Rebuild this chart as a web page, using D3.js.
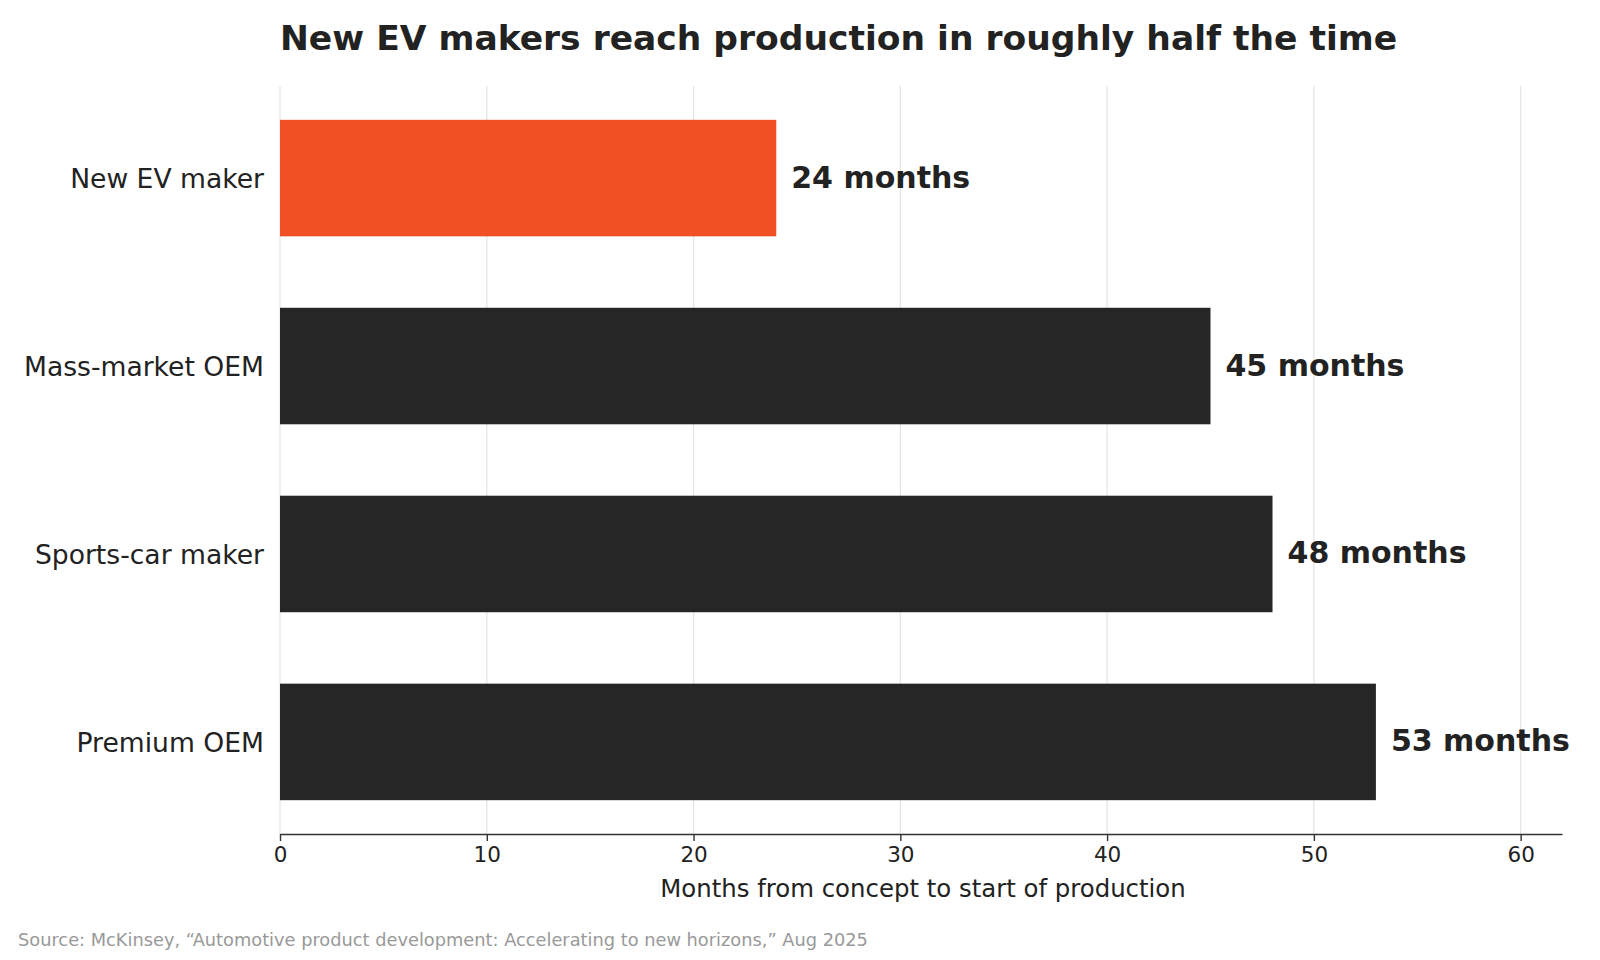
<!DOCTYPE html>
<html><head><meta charset="utf-8">
<script src="https://cdn.jsdelivr.net/npm/d3@7"></script>
<style>body{margin:0;background:#fff}svg{display:block;font-family:"DejaVu Sans",sans-serif}</style>
</head><body>
<svg id="c" width="1600" height="960"></svg>
<script>
const categories = ["New EV maker", "Mass-market OEM", "Sports-car maker", "Premium OEM"];
const values = [24, 45, 48, 53];
const highlight = ["New EV maker"];
const xTicks = [0, 10, 20, 30, 40, 50, 60];
const title = "New EV makers reach production in roughly half the time";
const xTitle = "Months from concept to start of production";
const source = "Source: McKinsey, \u201cAutomotive product development: Accelerating to new horizons,\u201d Aug 2025";

const svg = d3.select("#c");
const L = 280, R = 1562, T = 86, B = 834;
const x = d3.scaleLinear().domain([0, 62]).range([L, R]);
const y = d3.scaleBand().domain(categories).range([T, B]).paddingInner(0.38).paddingOuter(0.18);

// grid
svg.append("g").selectAll("line").data(xTicks).join("line")
  .attr("x1", d => x(d)).attr("x2", d => x(d)).attr("y1", T).attr("y2", B)
  .attr("stroke", "#e6e6e6").attr("stroke-width", 1.3);

// bars
const data = categories.map((c, i) => ({c, v: values[i]}));
svg.append("g").selectAll("rect").data(data).join("rect")
  .attr("x", x(0)).attr("y", d => y(d.c))
  .attr("width", d => x(d.v) - x(0)).attr("height", y.bandwidth())
  .attr("fill", d => highlight.includes(d.c) ? "#F15025" : "#262626");

// value labels
svg.append("g").selectAll("text").data(data).join("text")
  .attr("x", d => x(d.v) + 15).attr("y", d => y(d.c) + y.bandwidth() / 2 - 1)
  .attr("dy", "0.35em").attr("font-size", 30).attr("font-weight", "bold")
  .attr("fill", "#222").text(d => d.v + " months");

// category labels
svg.append("g").selectAll("text").data(categories).join("text")
  .attr("x", L - 16).attr("y", d => y(d) + y.bandwidth() / 2 + 1)
  .attr("dy", "0.35em").attr("text-anchor", "end").attr("font-size", 26.6)
  .attr("fill", "#222").text(d => d);

// x axis
const ax = svg.append("g").attr("transform", `translate(0,${B})`)
  .call(d3.axisBottom(x).tickValues(xTicks).tickSize(7).tickPadding(6).tickSizeOuter(0));
ax.select(".domain").attr("stroke", "#333").attr("stroke-width", 1.6);
ax.selectAll(".tick line").attr("stroke", "#333").attr("stroke-width", 1.4);
ax.selectAll(".tick text").attr("font-size", 21.5).attr("fill", "#222").attr("font-family", "DejaVu Sans");

svg.append("text").attr("x", (L + R) / 2 + 2).attr("y", 897).attr("text-anchor", "middle")
  .attr("font-size", 24.4).attr("fill", "#222").text(xTitle);

svg.append("text").attr("x", L).attr("y", 50).attr("font-size", 34.5).attr("font-weight", "bold")
  .attr("fill", "#222").text(title);

svg.append("text").attr("x", 18).attr("y", 946).attr("font-size", 17.8)
  .attr("fill", "#999").text(source);
</script>
</body></html>
